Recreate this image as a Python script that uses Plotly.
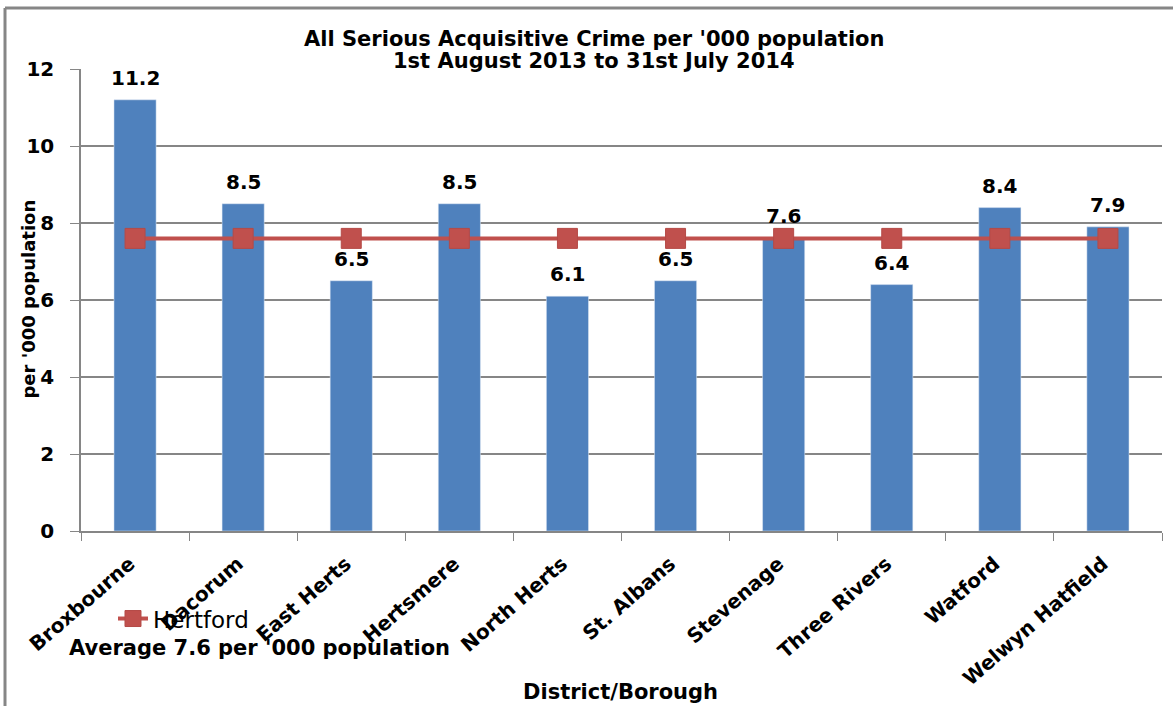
import plotly.graph_objects as go

districts = ["Broxbourne", "Dacorum", "East Herts", "Hertsmere", "North Herts",
             "St. Albans", "Stevenage", "Three Rivers", "Watford", "Welwyn Hatfield"]
crime_rate = [11.2, 8.5, 6.5, 8.5, 6.1, 6.5, 7.6, 6.4, 8.4, 7.9]
hertford_avg = [7.6, 7.6, 7.6, 7.6, 7.6, 7.6, 7.6, 7.6, 7.6, 7.6]
y_ticks = [0, 2, 4, 6, 8, 10, 12]

FONT = "DejaVu Sans"
BAR = "#4F81BD"
RED = "#C0504D"
GRAY = "#868686"

fig = go.Figure()
fig.add_trace(go.Bar(x=districts, y=crime_rate, marker_color=BAR, showlegend=False,
                     hoverinfo="skip"))
fig.add_trace(go.Scatter(x=districts, y=hertford_avg, mode="lines+markers", name="Hertford",
                         line=dict(color=RED, width=4),
                         marker=dict(symbol="square", size=20, color=RED,
                                     line=dict(color="#B44A47", width=1)),
                         cliponaxis=False))


def bold(size):
    return dict(family=FONT, size=size, color="black", weight="bold")


ann = []
for d, v in zip(districts, crime_rate):
    ann.append(dict(x=d, y=v + 0.57, xref="x", yref="y", text=f"{v}",
                    showarrow=False, xanchor="center", yanchor="middle", font=bold(20)))
ann.append(dict(x=0.4746, y=1.0650, xref="paper", yref="paper", xanchor="center", yanchor="middle",
                text="All Serious Acquisitive Crime per '000 population",
                showarrow=False, font=bold(21)))
ann.append(dict(x=0.4746, y=1.0173, xref="paper", yref="paper", xanchor="center", yanchor="middle",
                text="1st August 2013 to 31st July 2014",
                showarrow=False, font=bold(21)))
ann.append(dict(x=-0.0486, y=0.502, xref="paper", yref="paper", xanchor="center", yanchor="middle",
                text="per '000 population", textangle=-90, showarrow=False, font=bold(18)))
ann.append(dict(x=0.4995, y=-0.3485, xref="paper", yref="paper", xanchor="center", yanchor="middle",
                text="District/Borough", showarrow=False, font=bold(21)))
ann.append(dict(x=-0.0130, y=-0.2532, xref="paper", yref="paper", xanchor="left", yanchor="middle",
                text="Average 7.6 per '000 population", showarrow=False, font=bold(21)))

fig.update_layout(
    width=1173, height=706,
    margin=dict(l=81, r=11, t=69, b=175),
    paper_bgcolor="white", plot_bgcolor="white",
    bargap=0.61,
    annotations=ann,
    legend=dict(x=0.0296, y=-0.143, xanchor="left", yanchor="top", bgcolor="rgba(0,0,0,0)",
                font=dict(family=FONT, size=23, color="black")),
    shapes=[
        dict(type="line", xref="paper", yref="paper", x0=-0.0703, x1=1.1, y0=1.1320, y1=1.1320,
             line=dict(color=GRAY, width=3)),
        dict(type="line", xref="paper", yref="paper", x0=-0.0703, x1=-0.0703, y0=-0.5, y1=1.1320,
             line=dict(color=GRAY, width=3)),
    ],
)
fig.update_xaxes(range=[-0.5, 9.5], tickmode="array", tickvals=districts,
                 ticktext=[d + "\u00a0" for d in districts],
                 showline=True, linecolor=GRAY, linewidth=1.5, ticks="outside",
                 tickson="boundaries", ticklen=8, tickcolor=GRAY, tickangle=-41,
                 ticklabelstandoff=7, tickfont=bold(20), automargin=False)
fig.update_yaxes(range=[0, 12], tickvals=y_ticks, showline=True, linecolor=GRAY, linewidth=1.5,
                 showgrid=True, gridcolor=GRAY, gridwidth=1.5, ticks="outside", ticklen=9,
                 tickcolor=GRAY, ticklabelstandoff=12, zeroline=False, tickfont=bold(20),
                 automargin=False)

fig.write_html("out.html")
